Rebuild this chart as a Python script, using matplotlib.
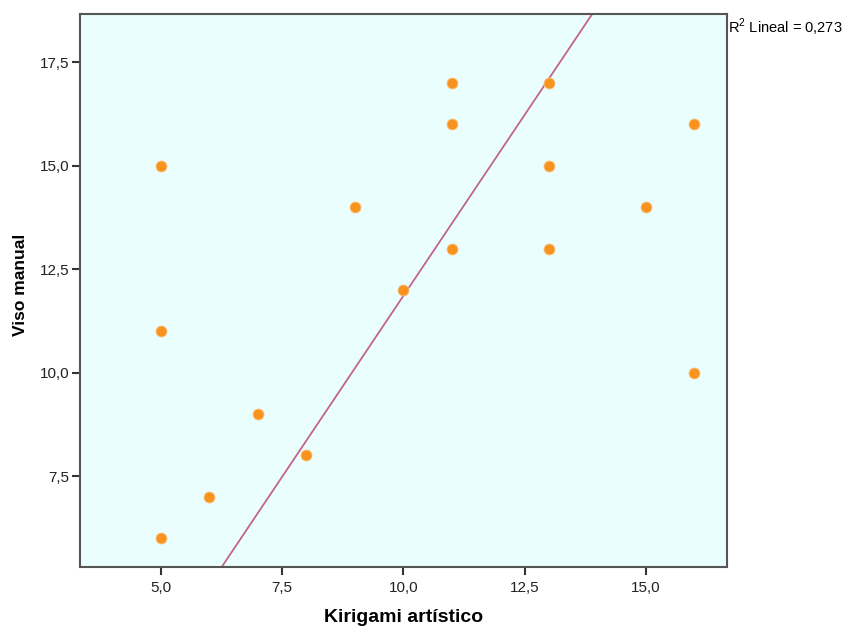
import matplotlib
matplotlib.use("Agg")
import matplotlib.pyplot as plt
from matplotlib.ticker import FuncFormatter

# data
kirigami = [5, 5, 5, 6, 7, 8, 9, 10, 11, 11, 11, 13, 13, 13, 15, 16, 16]
viso = [15, 11, 6, 7, 9, 8, 14, 12, 17, 16, 13, 17, 15, 13, 14, 16, 10]

# fit line as drawn (intercept, slope)
fit_intercept = -5.64
fit_slope = 1.75
r2_label = "R$^2$ Lineal = 0,273"

xticks = [5.0, 7.5, 10.0, 12.5, 15.0]
yticks = [7.5, 10.0, 12.5, 15.0, 17.5]

plt.rcParams['font.family'] = ['Liberation Sans', 'DejaVu Sans']
plt.rcParams['mathtext.fontset'] = 'custom'
plt.rcParams['mathtext.rm'] = 'Liberation Sans'

fig = plt.figure(figsize=(8.42, 6.28), dpi=100)
ax = fig.add_axes([0.095, 0.0971, 0.7684, 0.8806])
ax.set_facecolor('#EBFEFE')

xlim = (3.33, 16.67)
ylim = (5.30, 18.67)

ax.scatter(kirigami, viso, s=62, color='#F7931E', edgecolors='#FBC27A',
           linewidths=0.6, zorder=3)

xs = [xlim[0], xlim[1]]
ax.plot(xs, [fit_intercept + fit_slope * x for x in xs], color='#C2648E',
        lw=1.3, zorder=2)

ax.set_xlim(xlim)
ax.set_ylim(ylim)
ax.set_xticks(xticks)
ax.set_yticks(yticks)
fmt = FuncFormatter(lambda v, p: '{:.1f}'.format(v).replace('.', ','))
ax.xaxis.set_major_formatter(fmt)
ax.yaxis.set_major_formatter(fmt)
ax.tick_params(direction='out', length=6, width=1.5, color='#333333',
               labelsize=11, labelcolor='#222222')
ax.tick_params(axis='x', pad=4)
ax.tick_params(axis='y', pad=1.5)

for s in ax.spines.values():
    s.set_color('#555555')
    s.set_linewidth(1.5)

ax.set_xlabel('Kirigami artístico', fontsize=14, fontweight='bold', labelpad=10)
ax.set_ylabel('Viso manual', fontsize=12.5, fontweight='bold', labelpad=8)
ax.yaxis.set_label_coords(-0.08, 0.51)

ax.text(1.001, 0.975, r2_label, transform=ax.transAxes, fontsize=10.5,
        ha='left', va='center')

fig.savefig('out.png', dpi=100)
